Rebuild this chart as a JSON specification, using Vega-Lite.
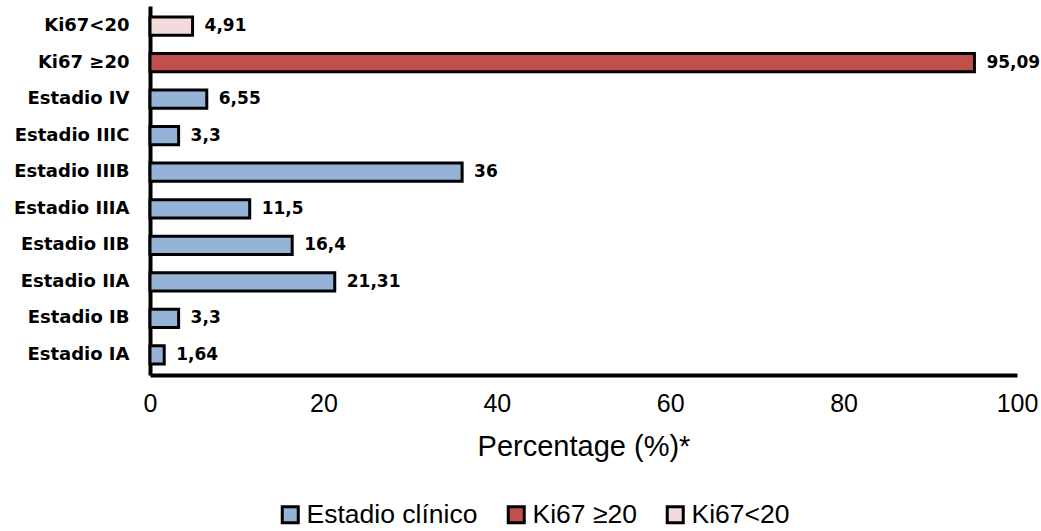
{
  "$schema": "https://vega.github.io/schema/vega-lite/v6.json",
  "width": 867,
  "height": 369,
  "autosize": {"type": "none"},
  "padding": {"left": 150, "top": 6, "right": 24, "bottom": 156},
  "background": "white",
  "data": {
    "values": [
      {"cat": "Ki67<20", "value": 4.91, "label": "4,91", "group": "Ki67<20"},
      {"cat": "Ki67 ≥20", "value": 95.09, "label": "95,09", "group": "Ki67 ≥20"},
      {"cat": "Estadio IV", "value": 6.55, "label": "6,55", "group": "Estadio clínico"},
      {"cat": "Estadio IIIC", "value": 3.3, "label": "3,3", "group": "Estadio clínico"},
      {"cat": "Estadio IIIB", "value": 36, "label": "36", "group": "Estadio clínico"},
      {"cat": "Estadio IIIA", "value": 11.5, "label": "11,5", "group": "Estadio clínico"},
      {"cat": "Estadio IIB", "value": 16.4, "label": "16,4", "group": "Estadio clínico"},
      {"cat": "Estadio IIA", "value": 21.31, "label": "21,31", "group": "Estadio clínico"},
      {"cat": "Estadio IB", "value": 3.3, "label": "3,3", "group": "Estadio clínico"},
      {"cat": "Estadio IA", "value": 1.64, "label": "1,64", "group": "Estadio clínico"}
    ]
  },
  "encoding": {
    "y": {
      "field": "cat",
      "type": "nominal",
      "sort": null,
      "scale": {"paddingInner": 0.5, "paddingOuter": 0.3},
      "axis": {
        "title": null,
        "ticks": false,
        "domainColor": "black",
        "domainWidth": 4,
        "labelFont": "DejaVu Sans",
        "labelFontWeight": "bold",
        "labelFontSize": 18,
        "labelColor": "black",
        "labelPadding": 21
      }
    },
    "x": {
      "field": "value",
      "type": "quantitative",
      "scale": {"domain": [0, 100], "nice": false},
      "axis": {
        "title": "Percentage (%)*",
        "values": [0, 20, 40, 60, 80, 100],
        "grid": false,
        "ticks": false,
        "domainColor": "black",
        "domainWidth": 4,
        "labelFont": "Liberation Sans",
        "labelFontSize": 25,
        "labelColor": "black",
        "labelPadding": 16,
        "labelFlush": false,
        "titleFont": "Liberation Sans",
        "titleFontSize": 29,
        "titleFontWeight": "normal",
        "titleColor": "black",
        "titlePadding": 16
      }
    }
  },
  "layer": [
    {
      "mark": {"type": "bar", "stroke": "black", "strokeWidth": 3},
      "encoding": {
        "color": {
          "field": "group",
          "type": "nominal",
          "scale": {
            "domain": ["Estadio clínico", "Ki67 ≥20", "Ki67<20"],
            "range": ["#95B3D7", "#C0504D", "#F2DCDB"]
          },
          "legend": {
            "title": null,
            "orient": "none",
            "direction": "horizontal",
            "legendX": 127,
            "legendY": 495,
            "symbolType": "square",
            "symbolSize": 256,
            "symbolStrokeColor": "black",
            "symbolStrokeWidth": 3,
            "symbolOpacity": 1,
            "labelFont": "Liberation Sans",
            "labelFontSize": 26.5,
            "labelColor": "black",
            "labelOffset": 3,
            "labelLimit": 400,
            "columnPadding": 24
          }
        }
      }
    },
    {
      "mark": {
        "type": "text",
        "align": "left",
        "baseline": "middle",
        "dx": 12,
        "font": "DejaVu Sans",
        "fontWeight": "bold",
        "fontSize": 17,
        "color": "black"
      },
      "encoding": {"text": {"field": "label"}}
    }
  ],
  "config": {"view": {"stroke": null}}
}
